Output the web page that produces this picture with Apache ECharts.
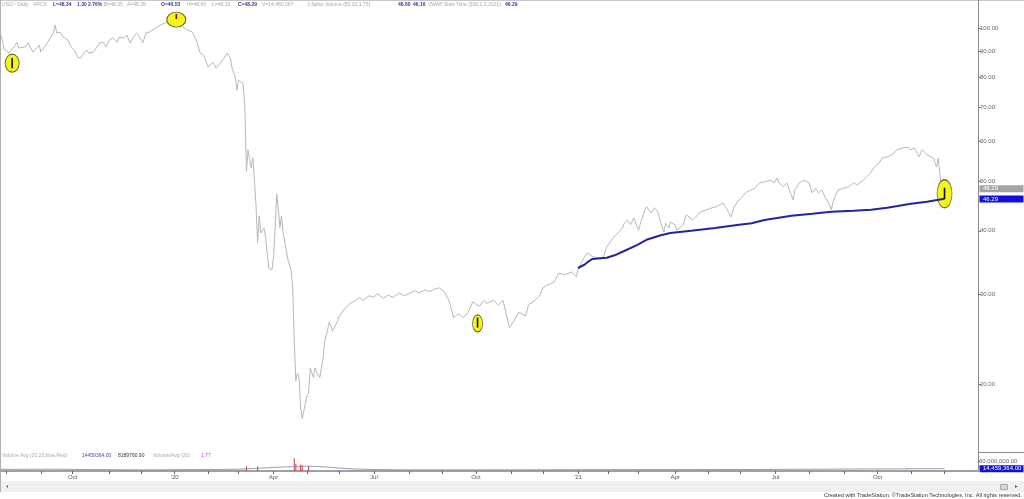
<!DOCTYPE html>
<html><head><meta charset="utf-8">
<script src="https://cdn.jsdelivr.net/npm/echarts@6/dist/echarts.min.js"></script>
<style>html,body{margin:0;padding:0;background:#fff;overflow:hidden}#c{width:1024px;height:499px}</style>
</head><body><div id="c"></div>
<script>
// ---------- data ----------
const startDate = '2019-07-29', endDate = '2021-12-31';
const holidays = ['2019-09-02','2019-11-28','2019-12-25','2020-01-01','2020-01-20','2020-02-17','2020-04-10','2020-05-25','2020-07-03','2020-09-07','2020-11-26','2020-12-25','2021-01-01','2021-01-18','2021-02-15','2021-04-02','2021-05-31','2021-07-05','2021-09-06','2021-11-25','2021-12-24'];
const priceTickValues = [20,30,40,50,60,70,80,90,100];
const quarterLabels = {'01':null,'04':'Apr','07':'Jul','10':'Oct'};

const priceDates = ['2019-07-29','2019-07-31','2019-08-01','2019-08-05','2019-08-08','2019-08-12','2019-08-13','2019-08-19','2019-08-21','2019-08-26','2019-08-30','2019-09-03','2019-09-09','2019-09-10','2019-09-13','2019-09-16','2019-09-17','2019-09-19','2019-09-23','2019-09-26','2019-09-30','2019-10-02','2019-10-04','2019-10-08','2019-10-10','2019-10-14','2019-10-15','2019-10-18','2019-10-21','2019-10-24','2019-10-28','2019-10-30','2019-11-01','2019-11-05','2019-11-08','2019-11-11','2019-11-14','2019-11-18','2019-11-20','2019-11-25','2019-11-26','2019-11-29','2019-12-03','2019-12-05','2019-12-09','2019-12-13','2019-12-18','2019-12-23','2019-12-26','2019-12-31','2020-01-06','2020-01-09','2020-01-14','2020-01-17','2020-01-21','2020-01-23','2020-01-27','2020-01-29','2020-02-03','2020-02-06','2020-02-10','2020-02-13','2020-02-18','2020-02-20','2020-02-21','2020-02-24','2020-02-25','2020-02-27','2020-02-28','2020-03-02','2020-03-03','2020-03-04','2020-03-05','2020-03-06','2020-03-09','2020-03-10','2020-03-11','2020-03-12','2020-03-13','2020-03-16','2020-03-17','2020-03-18','2020-03-19','2020-03-20','2020-03-24','2020-03-25','2020-03-26','2020-03-27','2020-03-31','2020-04-01','2020-04-02','2020-04-03','2020-04-06','2020-04-07','2020-04-08','2020-04-09','2020-04-14','2020-04-15','2020-04-17','2020-04-20','2020-04-21','2020-04-22','2020-04-23','2020-04-24','2020-04-27','2020-04-28','2020-04-30','2020-05-01','2020-05-04','2020-05-05','2020-05-07','2020-05-08','2020-05-11','2020-05-13','2020-05-15','2020-05-18','2020-05-20','2020-05-21','2020-05-26','2020-05-27','2020-05-29','2020-06-01','2020-06-05','2020-06-10','2020-06-15','2020-06-18','2020-06-22','2020-06-26','2020-07-01','2020-07-06','2020-07-10','2020-07-15','2020-07-20','2020-07-24','2020-07-29','2020-08-03','2020-08-07','2020-08-11','2020-08-17','2020-08-20','2020-08-25','2020-08-28','2020-09-02','2020-09-08','2020-09-11','2020-09-16','2020-09-21','2020-09-24','2020-09-29','2020-10-05','2020-10-08','2020-10-12','2020-10-16','2020-10-21','2020-10-26','2020-10-30','2020-11-02','2020-11-05','2020-11-09','2020-11-13','2020-11-17','2020-11-23','2020-11-27','2020-12-01','2020-12-04','2020-12-10','2020-12-15','2020-12-21','2020-12-28','2020-12-31','2021-01-04','2021-01-06','2021-01-08','2021-01-12','2021-01-14','2021-01-19','2021-01-22','2021-01-27','2021-01-29','2021-02-04','2021-02-09','2021-02-12','2021-02-16','2021-02-18','2021-02-22','2021-02-24','2021-03-01','2021-03-02','2021-03-05','2021-03-08','2021-03-11','2021-03-15','2021-03-17','2021-03-19','2021-03-23','2021-03-24','2021-03-26','2021-03-29','2021-04-01','2021-04-05','2021-04-09','2021-04-13','2021-04-19','2021-04-21','2021-04-26','2021-04-30','2021-05-05','2021-05-10','2021-05-14','2021-05-18','2021-05-21','2021-05-25','2021-05-28','2021-06-03','2021-06-07','2021-06-14','2021-06-17','2021-06-22','2021-06-28','2021-06-30','2021-07-02','2021-07-06','2021-07-09','2021-07-13','2021-07-19','2021-07-20','2021-07-23','2021-07-28','2021-08-02','2021-08-04','2021-08-06','2021-08-10','2021-08-12','2021-08-16','2021-08-18','2021-08-20','2021-08-23','2021-08-26','2021-09-01','2021-09-07','2021-09-10','2021-09-14','2021-09-20','2021-09-22','2021-09-27','2021-09-29','2021-10-04','2021-10-06','2021-10-11','2021-10-14','2021-10-19','2021-10-25','2021-10-28','2021-11-01','2021-11-03','2021-11-08','2021-11-10','2021-11-15','2021-11-19','2021-11-22','2021-11-23','2021-11-24','2021-11-26','2021-11-29','2021-11-30','2021-12-01'];
const priceValues = [97.0,91.0,90.6,89.4,91.9,93.9,91.5,91.9,93.6,89.8,92.7,89.8,93.6,94.8,98.3,101.5,97.9,98.3,96.1,94.8,91.9,90.6,87.8,87.4,89.4,90.6,89.4,89.8,90.6,93.6,93.9,91.9,94.8,95.7,93.9,96.1,95.7,97.0,93.6,97.0,97.9,96.1,93.6,97.9,98.3,100.1,101.5,102.4,103.8,104.3,104.8,100.6,99.2,98.3,97.0,93.9,89.4,88.6,83.9,85.8,83.5,85.8,87.4,89.4,89.8,87.4,83.5,80.2,75.6,79.1,79.1,78.4,77.4,70.0,52.3,57.7,55.2,53.2,55.7,50.5,44.8,37.9,42.8,39.6,40.5,38.9,36.2,33.8,33.5,35.5,40.6,47.2,44.2,40.6,42.8,39.6,36.7,35.1,33.5,31.0,24.4,20.3,21.0,20.6,18.0,17.1,18.3,19.0,19.2,21.5,20.6,21.5,21.1,20.6,22.3,24.2,25.6,26.5,25.4,25.2,26.5,27.1,28.2,28.8,29.1,29.6,29.2,29.8,29.6,30.1,29.5,29.9,29.6,30.2,29.8,30.1,30.5,30.2,30.6,30.4,30.7,30.9,30.4,29.2,27.0,27.5,27.0,27.6,29.0,28.4,29.2,28.8,29.2,28.6,29.2,25.8,25.6,27.0,27.7,27.2,28.6,29.2,29.8,30.9,31.3,31.7,33.0,32.8,33.2,32.5,33.5,34.6,35.5,36.2,35.8,35.5,35.4,35.5,37.2,38.7,39.6,40.5,41.4,42.0,41.1,42.4,40.1,41.1,44.0,44.6,43.4,44.4,43.6,41.4,39.8,41.4,40.5,41.6,41.1,40.1,41.1,43.0,42.0,42.6,43.6,44.0,44.4,44.6,45.4,44.4,42.6,44.6,46.0,47.0,47.7,48.5,49.7,49.9,50.3,49.7,50.8,49.7,48.8,49.7,46.0,48.1,49.7,50.3,49.7,47.5,48.5,47.5,48.1,46.6,45.6,44.0,45.6,48.1,48.5,48.8,49.7,49.2,50.3,51.0,52.2,53.4,54.4,55.6,55.9,56.4,57.7,58.2,58.4,57.7,58.2,55.9,57.7,56.4,55.6,55.1,53.4,55.6,52.0,48.8,47.0,48.29];

const vwapDates = ['2021-01-04','2021-01-08','2021-01-12','2021-01-15','2021-01-29','2021-02-05','2021-02-16','2021-02-26','2021-03-08','2021-03-19','2021-03-29','2021-04-16','2021-05-07','2021-05-28','2021-06-10','2021-06-22','2021-07-16','2021-08-04','2021-08-20','2021-09-10','2021-09-27','2021-10-11','2021-11-01','2021-11-15','2021-11-30','2021-12-01'];
const vwapValues = [33.8,34.3,34.7,35.2,35.4,35.8,36.5,37.5,38.4,39.2,39.6,40.0,40.5,41.1,41.4,42.0,42.8,43.2,43.6,43.8,44.0,44.4,45.2,45.6,46.2,46.29];

// J-Spike bars: date, open, high, low, close
const spikeBars = [['2019-08-07',87.0,87.4,83.5,84.0],['2020-01-03',106.2,106.7,104.3,104.8],['2020-10-02',26.9,27.0,25.8,26.0],['2021-12-01',46.53,48.60,46.16,48.29]];
// centre of the hand-drawn ellipses (date, price)
const spikeCircles = [['2019-08-07',85.4],['2020-01-03',104.0],['2020-10-02',26.3],['2021-12-01',47.3]];

const volAvgDates = ['2019-07-29','2019-09-16','2019-10-15','2019-12-02','2020-01-06','2020-02-03','2020-03-02','2020-03-16','2020-04-01','2020-04-20','2020-05-01','2020-05-15','2020-06-01','2020-06-15','2020-07-01','2020-08-03','2020-10-01','2021-01-04','2021-06-01','2021-12-01'];
const volAvgValues = [10e6,11e6,9e6,7e6,8e6,9e6,11e6,16e6,22e6,27e6,30e6,26e6,18e6,12e6,9e6,7e6,7e6,8e6,9e6,14459364];
const volSpikeDates = ['2020-03-09','2020-03-18','2020-04-21','2020-04-22','2020-04-27','2020-04-28','2020-05-04'];
const volSpikeValues = [30e6,28e6,78e6,45e6,40e6,36e6,30e6];
const volTickValues = [60e6];

// ---------- styles / layout ----------
const ellipseSizes = [[14,18],[19,15],[10,17],[15,28]];
const spikeColors = ['#111','#8b1010','#111','#111'];
const headerLayout = [
  ['USO - Daily',2,'g'],['ARCX',33,'g'],['L=48.34',53,'b'],['1.30',77,'b'],['2.76%',88,'b'],['B=48.35',104,'g'],['A=48.39',127,'g'],
  ['O=46.53',161,'b'],['H=48.60',187,'g'],['L=46.16',212,'g'],['C=48.29',238,'b'],['V=14,460,067',262,'g'],
  ['J-Spike Volume (50,20,1.75)',307,'g'],['48.60',398,'b'],['46.16',413,'b'],['VWAP Start Time (930,1,3,2021)',428,'g'],['46.29',505,'b']];
const volHeaderLayout = [['Volume Avg (20,20,blue,Red)',2,'#a8a8a8'],['14459364.00',82,'#4a4ab0'],['8189760.90',118,'#333'],['Volume/Avg (20)',153,'#a8a8a8'],['1.77',201,'#c050c0']];
const FONT = 'Liberation Sans, Arial, sans-serif';

// ---------- trading calendar ----------
const categories = [];
for (let t = Date.parse(startDate + 'T00:00:00Z'); t <= Date.parse(endDate + 'T00:00:00Z'); t += 86400000) {
  const d = new Date(t), wd = d.getUTCDay();
  if (wd === 0 || wd === 6) continue;
  const s = d.toISOString().slice(0, 10);
  if (holidays.indexOf(s) >= 0) continue;
  categories.push(s);
}
function idx(date) { for (let i = 0; i < categories.length; i++) if (categories[i] >= date) return i; return categories.length - 1; }
const monthStart = categories.map((c, i) => i > 0 && c.slice(0, 7) !== categories[i - 1].slice(0, 7));
function monthLabel(v) {
  const m = v.slice(5, 7);
  if (m === '01') return "'" + v.slice(2, 4);
  return quarterLabels[m] || '';
}
const isQuarter = (i) => monthStart[i] && ['01','04','07','10'].indexOf(categories[i].slice(5, 7)) >= 0;

const PMIN = 14.70, PMAX = 113.66;
const L10 = Math.log10;

const priceData = priceDates.map((d, i) => [idx(d), priceValues[i]]);
const vwapData = vwapDates.map((d, i) => [idx(d), vwapValues[i]]);
const barData = spikeBars.map(b => [idx(b[0]), b[1], b[2], b[3], b[4]]);
const circleData = spikeCircles.map(c => [idx(c[0]), c[1]]);
const volAvgData = volAvgDates.map((d, i) => [idx(d), volAvgValues[i]]);
const volSpikeData = volSpikeDates.map((d, i) => [idx(d), volSpikeValues[i]]);

const graphics = [];
headerLayout.forEach(p => graphics.push({type:'text', x:p[1], y:5, silent:true, style:{text:p[0], fill: p[2]==='b' ? '#3a3a8c' : '#a8a8a8', fontSize:5, fontFamily:FONT, fontWeight: p[2]==='b' ? 'bold':'normal', verticalAlign:'middle'}}));
volHeaderLayout.forEach(p => graphics.push({type:'text', x:p[1], y:456, silent:true, style:{text:p[0], fill:p[2], fontSize:5, fontFamily:FONT, verticalAlign:'middle'}}));
// frame / separators
graphics.push({type:'line', silent:true, shape:{x1:0,y1:0.5,x2:1024,y2:0.5}, style:{stroke:'#c8c8c8', lineWidth:1}});
graphics.push({type:'line', silent:true, shape:{x1:0.5,y1:0,x2:0.5,y2:492}, style:{stroke:'#b0b0b0', lineWidth:1}});
graphics.push({type:'line', silent:true, shape:{x1:979,y1:452.5,x2:1024,y2:452.5}, style:{stroke:'#888', lineWidth:1}});
// scroll bar strip
graphics.push({type:'rect', silent:true, shape:{x:1,y:481,width:1023,height:11}, style:{fill:'#f0f0f0'}});
graphics.push({type:'polygon', silent:true, shape:{points:[[6,486.5],[8,485],[8,488]]}, style:{fill:'#666'}});
graphics.push({type:'rect', silent:true, shape:{x:1000.5,y:484.5,width:7,height:5}, style:{fill:'#d8d8d8', stroke:'#aaa', lineWidth:1}});
graphics.push({type:'polygon', silent:true, shape:{points:[[1015,485],[1017.5,486.5],[1015,488]]}, style:{fill:'#555'}});
graphics.push({type:'text', silent:true, x:1022, y:495.5, style:{text:'Created with TradeStation. \u00A9TradeStation Technologies, Inc. All rights reserved.', fill:'#333', fontSize:5.6, fontFamily:FONT, align:'right', verticalAlign:'middle'}});

const chart = echarts.init(document.getElementById('c'), null, {renderer:'canvas'});
const option = {
  animation:false,
  backgroundColor:'#fff',
  grid:[
    {left:1, right:46, top:0, height:452},
    {left:1, right:46, top:452, height:19}
  ],
  xAxis:[
    {type:'category', gridIndex:0, data:categories, boundaryGap:false, show:false},
    {type:'category', gridIndex:1, data:categories, boundaryGap:false,
     axisLine:{lineStyle:{color:'#a0a0a0', width:2}},
     axisTick:{interval:(i)=>monthStart[i], length:3, lineStyle:{color:'#666', width:1}},
     axisLabel:{interval:(i)=>isQuarter(i), formatter:monthLabel, fontSize:6, color:'#555', margin:3, fontFamily:FONT},
     splitLine:{show:false}}
  ],
  yAxis:[
    {type:'log', logBase:10, gridIndex:0, min:PMIN, max:PMAX, show:false},
    {type:'value', gridIndex:0, position:'right', min:L10(PMIN), max:L10(PMAX),
     axisLine:{show:true, lineStyle:{color:'#8a8a8a', width:1}},
     axisTick:{show:true, customValues:priceTickValues.map(L10), length:3, lineStyle:{color:'#777'}},
     axisLabel:{customValues:priceTickValues.map(L10), formatter:(v)=>Math.pow(10, v).toFixed(2), fontSize:6, color:'#666', margin:2, fontFamily:FONT},
     splitLine:{show:false}},
    {type:'value', gridIndex:1, position:'right', min:0, max:117e6,
     axisLine:{show:true, lineStyle:{color:'#8a8a8a', width:1}},
     axisTick:{show:true, customValues:volTickValues, length:2, lineStyle:{color:'#777'}},
     axisLabel:{customValues:volTickValues, formatter:(v)=>v.toLocaleString('en-US',{minimumFractionDigits:2}), fontSize:6, color:'#666', margin:1, fontFamily:FONT},
     splitLine:{show:false}}
  ],
  series:[
    {name:'USO', type:'line', xAxisIndex:0, yAxisIndex:0, data:priceData, showSymbol:false, lineStyle:{color:'#b8b8b8', width:1}, z:2},
    {name:'Spike ellipse', type:'scatter', xAxisIndex:0, yAxisIndex:0, data:circleData, symbol:'circle',
     symbolSize:(v, p)=>ellipseSizes[p.dataIndex], itemStyle:{color:'#f4f41c', borderColor:'#6a6a30', borderWidth:1, opacity:1}, z:3},
    {name:'VWAP', type:'line', xAxisIndex:0, yAxisIndex:0, data:vwapData, showSymbol:false, lineStyle:{color:'#24249c', width:2}, z:4},
    {name:'Spike bar', type:'custom', xAxisIndex:0, yAxisIndex:0, data:barData, encode:{x:0, y:[1,2,3,4]}, z:5,
     renderItem:(params, api)=>{
       const x = api.value(0);
       const h = api.coord([x, api.value(2)]), l = api.coord([x, api.value(3)]);
       const col = spikeColors[params.dataIndex];
       return {type:'line', shape:{x1:h[0], y1:h[1], x2:l[0], y2:l[1]}, style:{stroke:col, lineWidth:1.6}};
     }},
    {name:'Volume spike', type:'bar', xAxisIndex:1, yAxisIndex:2, data:volSpikeData, barWidth:1, itemStyle:{color:'#e03030'}, z:2},
    {name:'Volume Avg', type:'line', xAxisIndex:1, yAxisIndex:2, data:volAvgData, showSymbol:false, lineStyle:{color:'#8080a8', width:0.8}, z:3}
  ],
  graphic:graphics
};
chart.setOption(option);

// value boxes on the right axis, placed through the chart's own scales
const lastIdx = priceData[priceData.length-1][0];
const lastClose = priceValues[priceValues.length-1];
const lastVwap = vwapValues[vwapValues.length-1];
const lastVolAvg = volAvgValues[volAvgValues.length-1];
const yC = chart.convertToPixel({xAxisIndex:0, yAxisIndex:0}, [lastIdx, lastClose])[1];
const yV = chart.convertToPixel({xAxisIndex:0, yAxisIndex:0}, [lastIdx, lastVwap])[1];
const yA = chart.convertToPixel({xAxisIndex:1, yAxisIndex:2}, [lastIdx, lastVolAvg])[1];
function box(y, fill, text, dy) {
  return [
    {type:'rect', silent:true, shape:{x:979.5, y:y-3.5+dy, width:44, height:7}, style:{fill:fill}, z:50},
    {type:'text', silent:true, x:983, y:y+dy, style:{text:text, fill:'#fff', fontSize:6, fontFamily:FONT, verticalAlign:'middle'}, z:51}
  ];
}
chart.setOption({graphic: graphics.concat(box(yC, '#a4a4a4', lastClose.toFixed(2), -0.5), box(yV, '#1010d8', lastVwap.toFixed(2), 0.5), box(yA, '#1010d8', lastVolAvg.toLocaleString('en-US',{minimumFractionDigits:2}), 0))});
</script>
</body></html>
